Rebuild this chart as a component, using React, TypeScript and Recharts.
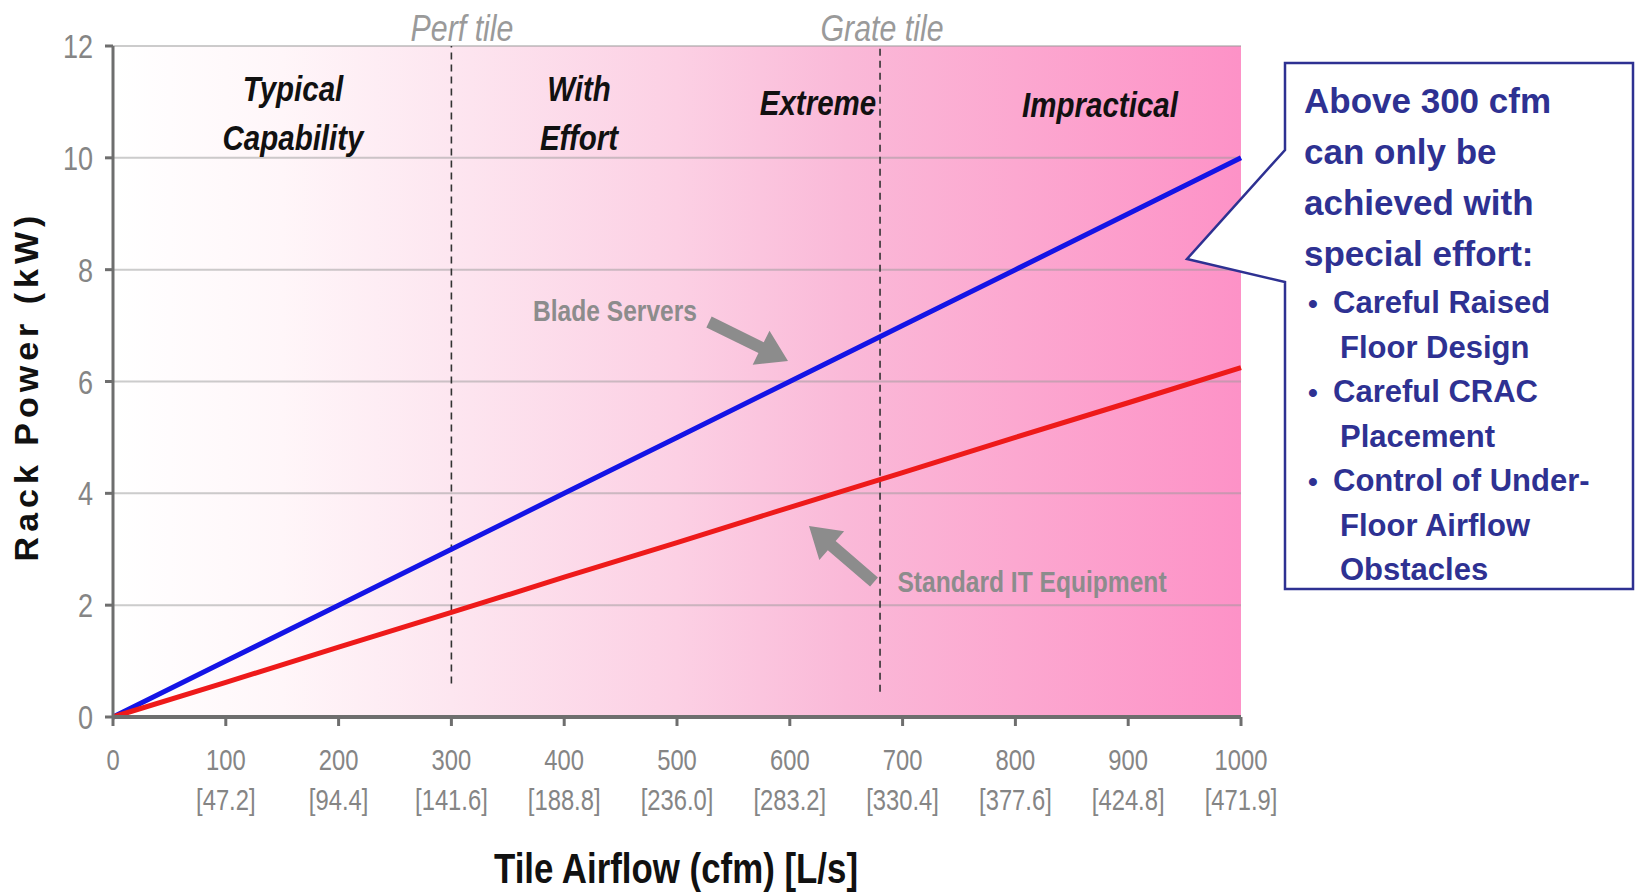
import React from 'react';
import { LineChart, Line, XAxis, YAxis, CartesianGrid, ReferenceLine } from 'recharts';

// airflow ticks (cfm) and their L/s equivalents
const cfmTicks = [0, 100, 200, 300, 400, 500, 600, 700, 800, 900, 1000];
const litresLabels = ['', '[47.2]', '[94.4]', '[141.6]', '[188.8]', '[236.0]', '[283.2]', '[330.4]', '[377.6]', '[424.8]', '[471.9]'];

// rack power (kW)
const bladeServersKw = [0, 1, 2, 3, 4, 5, 6, 7, 8, 9, 10];
const standardItKw = [0, 0.62, 1.25, 1.87, 2.5, 3.12, 3.75, 4.37, 5.0, 5.62, 6.25];

const powerTicks = [0, 2, 4, 6, 8, 10, 12];

// tile limits (cfm) and where the dashed markers stop (kW)
const tileLimitCfm = [300, 680];
const tileLimitFloorKw = [0.6, 0.45];

const calloutHead = ['Above 300 cfm', 'can only be', 'achieved with', 'special effort:'];
const calloutBullets = [
  ['Careful Raised', 'Floor Design'],
  ['Careful CRAC', 'Placement'],
  ['Control of Under-', 'Floor Airflow', 'Obstacles'],
];

const data = cfmTicks.map((c, i) => ({ cfm: c, blade: bladeServersKw[i], standard: standardItKw[i] }));

const SANS = '"Liberation Sans", Arial, sans-serif';
const TICK_GRAY = '#858585';
const AXIS_GRAY = '#6e6e6e';
const NAVY = '#2e3192';

// condensed text: Arial metrics squeezed horizontally (no narrow font installed)
const NText = ({ x, y, size, anchor = 'middle', weight = 400, italic = false, fill = '#111', children }: any) => (
  <text
    transform={`translate(${x} ${y}) scale(0.82 1)`}
    textAnchor={anchor}
    fontFamily={SANS}
    fontSize={size}
    fontWeight={weight}
    fontStyle={italic ? 'italic' : 'normal'}
    fill={fill}
  >
    {children}
  </text>
);

const XTick = (props: any) => {
  const { x, y, payload } = props;
  const idx = cfmTicks.indexOf(payload.value);
  return (
    <g>
      <NText x={x} y={y + 42} size={29} fill={TICK_GRAY}>{payload.value}</NText>
      <NText x={x} y={y + 82} size={29} fill={TICK_GRAY}>{litresLabels[idx]}</NText>
    </g>
  );
};

const YTick = (props: any) => {
  const { x, y, payload } = props;
  return <NText x={x} y={y + 12} size={33} anchor="end" fill={TICK_GRAY}>{payload.value}</NText>;
};

const Arrow = ({ from, to }: { from: [number, number]; to: [number, number] }) => {
  const dx = to[0] - from[0];
  const dy = to[1] - from[1];
  const len = Math.sqrt(dx * dx + dy * dy);
  const ux = dx / len;
  const uy = dy / len;
  const px = -uy;
  const py = ux;
  const headLen = 30;
  const headW = 19;
  const shaftW = 6;
  const bx = to[0] - ux * headLen;
  const by = to[1] - uy * headLen;
  const pts = [
    [from[0] + px * shaftW, from[1] + py * shaftW],
    [bx + px * shaftW, by + py * shaftW],
    [bx + px * headW, by + py * headW],
    [to[0], to[1]],
    [bx - px * headW, by - py * headW],
    [bx - px * shaftW, by - py * shaftW],
    [from[0] - px * shaftW, from[1] - py * shaftW],
  ];
  return <polygon points={pts.map((p) => p.join(',')).join(' ')} fill="#8c8c8c" />;
};

const Overlay = () => {
  const bulletLines: { text: string; first: boolean }[] = [];
  calloutBullets.forEach((b) => b.forEach((t, i) => bulletLines.push({ text: t, first: i === 0 })));
  return (
    <svg width={1635} height={894} style={{ position: 'absolute', left: 0, top: 0, pointerEvents: 'none' }}>
      <NText x={462} y={41} size={37} italic fill="#9a9a9a">Perf tile</NText>
      <NText x={882} y={41} size={37} italic fill="#9a9a9a">Grate tile</NText>

      <NText x={293} y={101} size={36} weight={700} italic>Typical</NText>
      <NText x={293} y={150} size={36} weight={700} italic>Capability</NText>
      <NText x={579} y={101} size={36} weight={700} italic>With</NText>
      <NText x={579} y={150} size={36} weight={700} italic>Effort</NText>
      <NText x={818} y={115} size={36} weight={700} italic>Extreme</NText>
      <NText x={1100} y={117} size={36} weight={700} italic>Impractical</NText>

      <NText x={615} y={321} size={30} weight={700} fill="#8c8c8c">Blade Servers</NText>
      <Arrow from={[709, 322]} to={[788, 361]} />
      <NText x={1032} y={592} size={30} weight={700} fill="#8c8c8c">Standard IT Equipment</NText>
      <Arrow from={[874, 582]} to={[809, 526]} />

      <text x={26} y={386} transform="rotate(-90 26 386)" textAnchor="middle" dominantBaseline="central"
        fontFamily={SANS} fontSize={34} fontWeight={700} letterSpacing={5} fill="#111">
        Rack Power (kW)
      </text>
      <NText x={676} y={883} size={42.5} weight={700}>Tile Airflow (cfm) [L/s]</NText>

      <path d="M1285,63 L1633,63 L1633,589 L1285,589 L1285,282 L1187,259 L1285,150 Z"
        fill="#ffffff" stroke={NAVY} strokeWidth={2.5} />
      {calloutHead.map((t, i) => (
        <text key={t} x={1304} y={113 + i * 51} fontFamily={SANS} fontSize={35} fontWeight={700} fill={NAVY}>{t}</text>
      ))}
      {bulletLines.map((l, i) => (
        <g key={l.text}>
          {l.first && <text x={1308} y={313 + i * 44.5} fontFamily={SANS} fontSize={28} fontWeight={700} fill={NAVY}>•</text>}
          <text x={l.first ? 1333 : 1340} y={313 + i * 44.5} fontFamily={SANS} fontSize={31} fontWeight={700} fill={NAVY}>{l.text}</text>
        </g>
      ))}
    </svg>
  );
};

export default function App() {
  return (
    <div style={{ position: 'absolute', left: 0, top: 0, width: 1635, height: 894, background: '#fff' }}>
      <LineChart width={1635} height={894} data={data} margin={{ top: 46, right: 394, bottom: 77, left: 53 }}>
        <defs>
          <linearGradient id="zoneGrad" x1="0" y1="0" x2="1" y2="0">
            <stop offset="0%" stopColor="#ffffff" />
            <stop offset="15%" stopColor="#fff6f9" />
            <stop offset="30%" stopColor="#fde6f0" />
            <stop offset="50%" stopColor="#fcd0e4" />
            <stop offset="65%" stopColor="#fab9d8" />
            <stop offset="80%" stopColor="#fca8d0" />
            <stop offset="100%" stopColor="#fd92c7" />
          </linearGradient>
        </defs>
        <CartesianGrid vertical={false} fill="url(#zoneGrad)" fillOpacity={1} stroke="#9a9a9a" strokeOpacity={0.5} strokeWidth={2} />
        <XAxis
          dataKey="cfm"
          type="number"
          domain={[0, 1000]}
          ticks={cfmTicks}
          height={100}
          stroke={AXIS_GRAY}
          strokeWidth={4}
          tickSize={9}
          tickLine={{ stroke: AXIS_GRAY, strokeWidth: 3 }}
          tick={<XTick />}
          interval={0}
        />
        <YAxis
          type="number"
          domain={[0, 12]}
          ticks={powerTicks}
          width={60}
          stroke={AXIS_GRAY}
          strokeWidth={3}
          tickSize={8}
          tickMargin={12}
          tickLine={{ stroke: AXIS_GRAY, strokeWidth: 3 }}
          tick={<YTick />}
          interval={0}
        />
        {tileLimitCfm.map((c, i) => (
          <ReferenceLine
            key={c}
            segment={[{ x: c, y: tileLimitFloorKw[i] }, { x: c, y: 12 }]}
            stroke="#333"
            strokeWidth={1.6}
            strokeDasharray="7 5"
          />
        ))}
        <Line type="linear" dataKey="blade" stroke="#1414e6" strokeWidth={5} dot={false} isAnimationActive={false} />
        <Line type="linear" dataKey="standard" stroke="#ee1a1a" strokeWidth={5} dot={false} isAnimationActive={false} />
      </LineChart>
      <Overlay />
    </div>
  );
}
